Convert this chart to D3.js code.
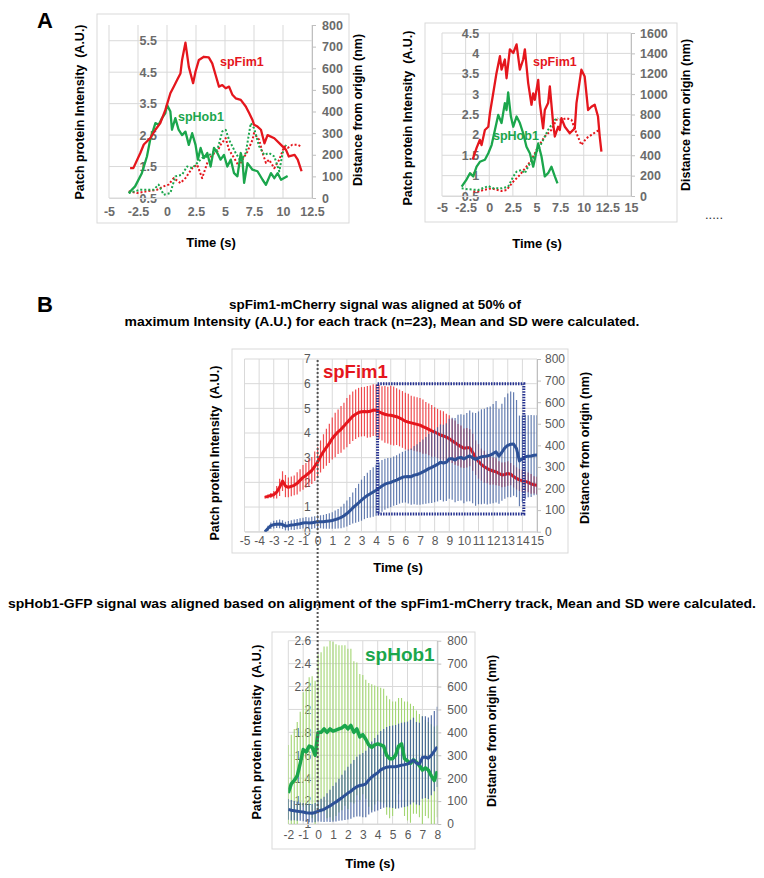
<!DOCTYPE html>
<html><head><meta charset="utf-8">
<script src="https://cdn.jsdelivr.net/npm/d3@7"></script>
<style>
body{margin:0;background:#fff;}
svg{font-family:"Liberation Sans", Arial, Helvetica, sans-serif;}
</style></head><body>
<svg id="fig" width="764" height="878"></svg>
<script>
// ---------------- DATA ----------------
// Panel A, left example track: [time (s), value]
const aL_fimInt = [[-3.18,1.45],[-2.9,1.45],[-2.3,1.93],[-2.0,2.2],[-1.45,2.4],[-1.0,2.67],[-0.58,2.88],[-0.14,3.3],[0.29,3.83],[0.58,4.04],[0.87,4.25],[1.16,4.46],[1.3,4.89],[1.59,5.44],[1.88,4.67],[2.25,4.15],[2.46,4.52],[2.75,4.89],[3.18,4.99],[3.6,4.97],[3.9,4.78],[4.19,4.41],[4.48,4.04],[4.77,4.09],[5.06,3.99],[5.35,4.04],[5.64,3.78],[5.92,3.67],[6.36,3.62],[6.79,3.41],[7.08,3.2],[7.37,2.98],[7.5,2.83],[7.8,2.77],[8.1,2.67],[8.4,2.24],[8.67,2.5],[9.25,2.4],[9.83,2.19],[10.26,2.03],[10.5,1.82],[11.0,1.87],[11.27,1.72],[11.6,1.35]];
const aL_hobInt = [[-3.3,0.66],[-2.75,0.87],[-2.17,1.29],[-1.73,1.82],[-1.45,2.35],[-1.0,2.88],[-0.72,2.83],[-0.43,3.04],[-0.14,3.2],[0,3.46],[0.29,3.25],[0.43,2.67],[0.72,3.04],[1.0,2.67],[1.3,2.5],[1.59,2.61],[1.88,2.19],[2.17,2.56],[2.46,2.19],[2.66,1.72],[2.9,2.09],[3.18,1.77],[3.47,1.93],[3.76,1.5],[4.05,2.09],[4.34,1.93],[4.62,1.72],[4.91,1.87],[5.2,1.5],[5.5,1.72],[5.78,1.29],[6.07,1.19],[6.36,1.93],[6.5,1.72],[6.65,0.98],[6.94,1.61],[7.37,1.4],[7.8,1.35],[8.24,1.08],[8.53,0.92],[8.96,1.29],[9.25,1.13],[9.54,1.29],[9.83,1.08],[10.4,1.2]];
const aL_fimDist = [[-3.3,31],[-2.6,23],[-1.73,31],[-0.87,38],[-0.29,54],[0.14,62],[0.58,92],[1.16,69],[1.59,92],[2.17,138],[2.6,154],[3.03,92],[3.47,162],[3.9,200],[4.34,215],[4.62,246],[5.06,277],[5.35,223],[5.78,185],[6.21,146],[6.5,177],[6.94,215],[7.37,269],[7.5,300],[7.95,269],[8.24,208],[8.53,162],[8.8,177],[9.25,138],[9.68,177],[10.1,238],[10.4,231],[10.8,246],[11.27,246],[11.56,238]];
const aL_hobDist = [[-3.3,23],[-2.3,38],[-1.16,38],[-0.72,62],[-0.29,15],[0.29,23],[0.72,100],[1.3,108],[1.73,146],[2.17,138],[2.6,162],[3.03,185],[3.47,192],[3.9,208],[4.34,223],[4.77,308],[5.06,315],[5.35,269],[5.64,238],[5.92,208],[6.36,169],[6.79,208],[7.22,346],[7.5,323],[7.95,238],[8.38,200],[8.8,208],[9.25,192],[9.68,123],[9.97,208],[10.26,246]];

// Panel A, right example track
const aR_fimInt = [[-1.76,1.39],[-1.34,1.68],[-0.99,1.88],[-0.81,1.75],[-0.46,2.12],[-0.1,2.2],[0.07,2.53],[0.42,3.02],[0.77,3.52],[1.13,3.93],[1.3,3.6],[1.65,3.85],[1.83,3.39],[2.18,4.1],[2.54,4.01],[2.89,4.22],[3.24,3.6],[3.59,3.85],[3.77,4.1],[4.12,3.27],[4.47,2.74],[4.65,3.02],[4.82,2.86],[5.18,3.35],[5.35,2.78],[5.7,2.16],[5.88,2.61],[6.23,2.78],[6.41,3.19],[6.76,2.28],[6.94,1.96],[7.29,2.2],[7.46,2.12],[7.64,2.41],[8.0,2.2],[8.52,2.04],[9.05,2.16],[9.23,2.78],[9.75,3.6],[10.1,3.43],[10.46,2.61],[10.81,2.69],[11.16,2.74],[11.51,2.45],[11.69,1.96],[11.87,1.59]];
const aR_hobInt = [[-2.92,0.73],[-2.39,0.91],[-2.04,1.06],[-1.69,0.98],[-1.34,1.22],[-0.99,1.34],[-0.46,1.39],[-0.1,1.55],[0.25,1.75],[0.6,2.12],[0.95,2.49],[1.3,2.29],[1.65,2.78],[1.83,2.61],[2.0,3.04],[2.29,2.45],[2.54,2.2],[2.89,2.45],[3.24,2.29],[3.59,2.04],[3.94,1.71],[4.3,1.55],[4.65,1.22],[5.18,1.79],[5.53,1.47],[5.88,0.98],[6.23,1.06],[6.58,1.22],[6.94,0.98],[7.22,0.81]];
const aR_fimDist = [[-1.69,43],[-1.16,43],[-0.63,59],[0.25,75],[1.3,49],[1.83,59],[2.54,141],[3.24,207],[3.94,289],[4.47,354],[5.18,485],[5.88,584],[6.58,649],[7.11,748],[7.64,748],[8.17,764],[8.7,748],[9.23,616],[9.75,502],[10.28,567],[10.81,600],[11.34,633],[11.69,649]];
const aR_hobDist = [[-2.92,75],[-2.22,66],[-1.16,59],[-0.1,98],[0.42,75],[1.3,75],[2.0,92],[2.54,190],[2.89,239],[3.42,256],[3.77,223],[4.12,289],[4.82,403],[5.53,518],[6.23,649],[6.94,748],[7.29,764]];

// Panel A tick labels
const aL_xTicks = [-5,-2.5,0,2.5,5,7.5,10,12.5];
const aL_yTicks = [0.5,1.5,2.5,3.5,4.5,5.5];
const aL_y2Ticks = [0,100,200,300,400,500,600,700,800];
const aR_xTicks = [-5,-2.5,0,2.5,5,7.5,10,12.5,15];
const aR_yTicks = [0.5,1,1.5,2,2.5,3,3.5,4,4.5];
const aR_y2Ticks = [0,200,400,600,800,1000,1200,1400,1600];

// Panel B, upper chart: spFim1 intensity (mean, SD) and distance (mean, SD)
const timeB = [-3.6,-3.4,-3.2,-3.0,-2.8,-2.6,-2.4,-2.2,-2.0,-1.8,-1.6,-1.4,-1.2,-1.0,-0.8,-0.6,-0.4,-0.2,0,0.2,0.4,0.6,0.8,1.0,1.2,1.4,1.6,1.8,2.0,2.2,2.4,2.6,2.8,3.0,3.2,3.4,3.6,3.8,4.0,4.2,4.4,4.6,4.8,5.0,5.2,5.4,5.6,5.8,6.0,6.2,6.4,6.6,6.8,7.0,7.2,7.4,7.6,7.8,8.0,8.2,8.4,8.6,8.8,9.0,9.2,9.4,9.6,9.8,10.0,10.2,10.4,10.6,10.8,11.0,11.2,11.4,11.6,11.8,12.0,12.2,12.4,12.6,12.8,13.0,13.2,13.4,13.6,13.8,14.0,14.2,14.4,14.6,14.8,15.0];
const fimMeanB = [1.40,1.43,1.47,1.50,1.60,1.80,2.05,1.85,1.80,1.84, 1.88,1.96,2.08,2.20,2.28,2.38,2.48,2.65,2.82,3.05, 3.25,3.42,3.58,3.78,3.92,4.05,4.15,4.28,4.42,4.55, 4.68,4.76,4.83,4.86,4.87,4.86,4.88,4.93,4.92,4.86, 4.80,4.76,4.73,4.72,4.69,4.66,4.61,4.55,4.48,4.44, 4.41,4.38,4.35,4.32,4.26,4.21,4.15,4.09,4.04,3.98, 3.92,3.88,3.83,3.77,3.68,3.61,3.52,3.45,3.38,3.40, 3.40,3.22,3.00,2.85,2.72,2.63,2.56,2.50,2.46,2.43, 2.36,2.30,2.32,2.36,2.33,2.24,2.16,2.10,2.06,2.04, 2.00,1.94,1.90,1.88];
const fimSdB = [0.05,0.08,0.10,0.15,0.25,0.35,0.40,0.45,0.40,0.40, 0.40,0.45,0.45,0.50,0.50,0.55,0.55,0.60,0.60,0.65, 0.70,0.75,0.80,0.85,0.90,0.90,0.95,0.95,1.00,1.00, 1.00,1.00,1.00,1.00,1.00,1.05,1.05,1.05,1.05,1.10, 1.10,1.15,1.15,1.20,1.20,1.15,1.15,1.15,1.15,1.15, 1.10,1.10,1.10,1.10,1.10,1.05,1.05,1.05,1.00,1.00, 1.00,1.00,0.95,0.95,0.90,0.90,0.85,0.85,0.80,0.80, 0.75,0.75,0.70,0.70,0.65,0.65,0.60,0.60,0.55,0.55, 0.50,0.50,0.50,0.50,0.45,0.45,0.45,0.45,0.45,0.40, 0.40,0.40,0.35,0.35];
const distMeanB = [0,15,28,33,35,36,33,26,28,31, 32,35,37,40,42,40,41,44,46,46, 46,48,50,52,56,60,66,74,84,96, 110,122,134,146,158,168,176,184,192,202, 212,220,225,228,234,239,246,252,255,256, 255,262,265,270,277,284,292,298,305,312, 322,318,322,338,338,332,342,344,337,345, 351,342,335,342,347,349,351,355,362,370, 350,368,388,400,405,406,385,328,338,347, 350,351,354,355];
const distSdB = [5,12,15,18,18,20,20,20,22,22, 24,24,25,25,26,26,28,28,30,30, 32,34,36,38,42,45,50,55,60,65, 72,80,88,95,100,105,110,115,118,120, 120,118,116,115,114,115,116,118,120,125, 130,135,140,145,150,155,160,165,168,172, 175,178,180,185,190,195,200,200,205,205, 210,210,215,215,220,220,225,225,230,235, 220,225,235,240,245,240,225,210,200,195, 190,190,185,185];
const b1_xTicks = [-5,-4,-3,-2,-1,0,1,2,3,4,5,6,7,8,9,10,11,12,13,14,15];
const b1_yTicks = [0,1,2,3,4,5,6,7];
const b1_y2Ticks = [0,100,200,300,400,500,600,700,800];
const boxT = [4.1, 14.1];   // highlighted window (time)
const boxV = [0.72, 6.0];   // highlighted window (intensity axis)

// Panel B, lower chart: spHob1 intensity (mean, SD) and distance (mean, SD)
const timeC = [-2.0,-1.8,-1.6,-1.4,-1.2,-1.0,-0.8,-0.6,-0.4,-0.2,0,0.2,0.4,0.6,0.8,1.0,1.2,1.4,1.6,1.8,2.0,2.2,2.4,2.6,2.8,3.0,3.2,3.4,3.6,3.8,4.0,4.2,4.4,4.6,4.8,5.0,5.2,5.4,5.6,5.8,6.0,6.2,6.4,6.6,6.8,7.0,7.2,7.4,7.6,7.8,8.0];
const hobMeanC = [1.27,1.35,1.38,1.42,1.53,1.65,1.63,1.68,1.67,1.60, 1.80,1.80,1.83,1.80,1.83,1.81,1.82,1.83,1.84,1.86, 1.83,1.86,1.80,1.83,1.76,1.78,1.74,1.69,1.67,1.69, 1.70,1.69,1.68,1.60,1.57,1.57,1.60,1.68,1.70,1.57, 1.55,1.53,1.56,1.54,1.51,1.47,1.49,1.47,1.42,1.38, 1.46];
const hobSdC = [0.42,0.43,0.45,0.47,0.45,0.50,0.55,0.60,0.62,0.65, 0.68,0.70,0.72,0.75,0.77,0.78,0.75,0.73,0.72,0.70, 0.70,0.67,0.62,0.58,0.55,0.52,0.52,0.54,0.55,0.52, 0.50,0.50,0.50,0.52,0.52,0.50,0.47,0.42,0.40,0.50, 0.52,0.52,0.47,0.45,0.45,0.47,0.42,0.42,0.45,0.47, 0.40];
const distMeanC = [64,60,58,56,54,52,49,48,47,50, 56,60,64,72,79,88,96,106,115,125, 135,143,154,163,168,170,175,192,205,215, 224,236,243,248,250,250,250,253,257,259, 262,270,279,265,262,290,292,287,300,318, 337];
const distSdC = [45,45,42,42,40,40,40,40,40,42, 45,50,55,62,70,78,85,92,100,108, 115,120,125,130,135,140,145,150,155,160, 165,170,172,175,178,180,182,185,185,185, 185,185,185,180,180,180,178,178,175,175, 175];
const b2_xTicks = [-2,-1,0,1,2,3,4,5,6,7,8];
const b2_yTicks = [1,1.2,1.4,1.6,1.8,2,2.2,2.4,2.6];
const b2_y2Ticks = [0,100,200,300,400,500,600,700,800];

// ---------------- DRAWING ----------------
const svg = d3.select('#fig');
const RED = '#e5161d', GREEN = '#1ba64c', BLUE = '#2d5197';
let clipN = 0;

function chart(o){
  const g = svg.append('g');
  g.append('rect').attr('x',o.frame[0]).attr('y',o.frame[1])
    .attr('width',o.frame[2]-o.frame[0]).attr('height',o.frame[3]-o.frame[1])
    .attr('fill','#fff').attr('stroke','#d9d9d9').attr('stroke-width',1);
  const x = d3.scaleLinear().domain(o.xDom).range(o.xRange);
  const yL = d3.scaleLinear().domain(o.yDom).range(o.yRange);
  const yR = d3.scaleLinear().domain(o.y2Dom).range(o.yRange);
  const grid = g.append('g').attr('stroke','#d9d9d9').attr('stroke-width',1);
  grid.selectAll('.vx').data(o.xTicks).join('line')
    .attr('x1',d=>x(d)).attr('x2',d=>x(d)).attr('y1',o.yRange[0]).attr('y2',o.yRange[1]);
  grid.selectAll('.hy').data(o.yTicks).join('line')
    .attr('x1',o.xRange[0]).attr('x2',o.xRange[1]).attr('y1',d=>yL(d)).attr('y2',d=>yL(d));
  const font = `${o.tickWeight} ${o.tickSize}px "Liberation Sans", Arial, sans-serif`;
  // right axis
  const gR = g.append('g').attr('transform',`translate(${o.xRange[1]},0)`)
    .call(d3.axisRight(yR).tickValues(o.y2Ticks).tickSize(4).tickSizeOuter(0).tickPadding(o.rPad).tickFormat(d=>String(d)));
  gR.select('.domain').attr('stroke','#bfbfbf');
  gR.selectAll('.tick line').attr('stroke','#bfbfbf');
  gR.selectAll('text').attr('fill',o.tickColor).style('font',font);
  // left axis (crosses at time 0)
  const gL = g.append('g').attr('transform',`translate(${x(0)},0)`)
    .call(d3.axisLeft(yL).tickValues(o.yTicks).tickSize(0).tickPadding(o.lPad).tickFormat(d=>String(d)));
  gL.select('.domain').remove();
  gL.selectAll('text').attr('fill',o.tickColor).style('font',font);
  // bottom axis
  const gB = g.append('g').attr('transform',`translate(0,${o.yRange[0]})`)
    .call(d3.axisBottom(x).tickValues(o.xTicks).tickSize(0).tickSizeOuter(0).tickPadding(o.bPad).tickFormat(d=>String(d)));
  gB.select('.domain').attr('stroke','#d9d9d9');
  gB.selectAll('text').attr('fill',o.tickColor).style('font',font);
  // clip
  const id = 'clip' + (clipN++);
  svg.append('clipPath').attr('id',id).append('rect')
    .attr('x',o.xRange[0]).attr('y',o.yRange[1])
    .attr('width',o.xRange[1]-o.xRange[0]).attr('height',o.yRange[0]-o.yRange[1]);
  const data = g.append('g').attr('clip-path',`url(#${id})`);
  return {g, data, x, yL, yR};
}

function text(t, x, y, opt){
  const el = svg.append('text').attr('x',x).attr('y',y).text(t)
    .attr('fill',opt.fill||'#000').attr('font-size',opt.size||12)
    .attr('font-weight',opt.weight||'bold').attr('text-anchor',opt.anchor||'start');
  if (opt.rotate) el.attr('transform',`rotate(-90,${x},${y})`);
  if (opt.len) el.attr('textLength',opt.len).attr('lengthAdjust','spacingAndGlyphs');
  return el;
}

function pairLine(c, pts, scale, color, dotted, w){
  c.data.append('path').datum(pts)
    .attr('d', d3.line().x(d=>c.x(d[0])).y(d=>scale(d[1])))
    .attr('fill','none').attr('stroke',color).attr('stroke-width',w)
    .attr('stroke-linejoin','round')
    .attr('stroke-dasharray', dotted ? '2,2' : null);
}

// ---- Panel A left ----
const A1 = chart({frame:[97,14,349,223], xDom:[-5,12.5], xRange:[109,312], yDom:[0.5,6], y2Dom:[0,800], yRange:[198,25],
  xTicks:aL_xTicks, yTicks:aL_yTicks, y2Ticks:aL_y2Ticks, tickSize:12.5, tickWeight:'bold', tickColor:'#6b6b6b',
  rPad:6, lPad:10, bPad:9});
pairLine(A1, aL_fimDist, A1.yR, RED, true, 2);
pairLine(A1, aL_hobDist, A1.yR, GREEN, true, 2);
pairLine(A1, aL_hobInt, A1.yL, GREEN, false, 2.3);
pairLine(A1, aL_fimInt, A1.yL, RED, false, 2.3);
text('spFim1', 220, 66, {fill:RED, size:12.5});
text('spHob1', 178, 121, {fill:GREEN, size:12.5});

// ---- Panel A right ----
const A2 = chart({frame:[425,23,677,222], xDom:[-5,15], xRange:[442,631], yDom:[0.5,4.5], y2Dom:[0,1600], yRange:[196,33],
  xTicks:aR_xTicks, yTicks:aR_yTicks, y2Ticks:aR_y2Ticks, tickSize:12.5, tickWeight:'bold', tickColor:'#6b6b6b',
  rPad:5, lPad:10, bPad:7});
pairLine(A2, aR_fimDist, A2.yR, RED, true, 2);
pairLine(A2, aR_hobDist, A2.yR, GREEN, true, 2);
pairLine(A2, aR_hobInt, A2.yL, GREEN, false, 2.3);
pairLine(A2, aR_fimInt, A2.yL, RED, false, 2.3);
text('spFim1', 533, 66, {fill:RED, size:12.5});
text('spHob1', 493, 140, {fill:GREEN, size:12.5});

// Panel A titles
text('Patch protein Intensity\u00a0\u00a0(A.U.)', 84, 112, {rotate:true, anchor:'middle', size:12.5});
text('Distance from origin (nm)', 362, 110, {rotate:true, anchor:'middle', size:12.5});
text('Time (s)', 211, 247, {anchor:'middle', size:13});
text('Patch protein Intensity\u00a0\u00a0(A.U.)', 412, 118, {rotate:true, anchor:'middle', size:12.5});
text('Distance from origin (nm)', 690, 115, {rotate:true, anchor:'middle', size:12.5});
text('Time (s)', 537, 248, {anchor:'middle', size:13});
text('.....', 705, 219, {size:13, weight:'normal', fill:'#333'});
text('A', 37, 28, {size:22});

// ---- Panel B upper ----
text('B', 37, 312, {size:22});
text('spFim1-mCherry signal was aligned at 50% of', 375, 309, {anchor:'middle', size:12.5, len:292});
text('maximum Intensity (A.U.) for each track (n=23), Mean and SD were calculated.', 382, 326, {anchor:'middle', size:12.5, len:515});

const B1 = chart({frame:[232,349,568,553], xDom:[-5,15], xRange:[244.5,537], yDom:[0,7], y2Dom:[0,800], yRange:[531.7,359],
  xTicks:b1_xTicks, yTicks:b1_yTicks, y2Ticks:b1_y2Ticks, tickSize:12, tickWeight:'normal', tickColor:'#595959',
  rPad:4, lPad:7, bPad:5});
function errBars(c, t, m, s, scale, color, w, op){
  c.data.append('g').selectAll('line').data(t).join('line')
    .attr('x1',(d)=>c.x(d)).attr('x2',(d)=>c.x(d))
    .attr('y1',(d,i)=>scale(m[i]-s[i])).attr('y2',(d,i)=>scale(m[i]+s[i]))
    .attr('stroke',color).attr('stroke-width',w).attr('opacity',op);
}
function meanLine(c, t, m, scale, color, w){
  c.data.append('path').datum(t)
    .attr('d', d3.line().x(d=>c.x(d)).y((d,i)=>scale(m[i])))
    .attr('fill','none').attr('stroke',color).attr('stroke-width',w).attr('stroke-linejoin','round');
}
errBars(B1, timeB, fimMeanB, fimSdB, B1.yL, '#ee2e33', 1.2, 0.85);
meanLine(B1, timeB, fimMeanB, B1.yL, RED, 3);
errBars(B1, timeB, distMeanB, distSdB, B1.yR, '#3a5a9c', 1.2, 0.78);
meanLine(B1, timeB, distMeanB, B1.yR, BLUE, 3);
B1.g.append('rect').attr('x',B1.x(boxT[0])).attr('y',B1.yL(boxV[1]))
  .attr('width',B1.x(boxT[1])-B1.x(boxT[0])).attr('height',B1.yL(boxV[0])-B1.yL(boxV[1]))
  .attr('fill','none').attr('stroke','#24308f').attr('stroke-width',3).attr('stroke-dasharray','1.5,1.2');
text('spFim1', 323, 378, {fill:RED, size:18.5});
text('Patch protein Intensity\u00a0\u00a0(A.U.)', 219, 453, {rotate:true, anchor:'middle', size:12.5});
text('Distance from origin (nm)', 589, 448, {rotate:true, anchor:'middle', size:12.5});
text('Time (s)', 398, 572, {anchor:'middle', size:13});

// ---- Panel B lower ----
text('spHob1-GFP signal was aligned based on alignment of the spFim1-mCherry track, Mean and SD were calculated.', 382, 608, {anchor:'middle', size:12.5, len:748});
const B2 = chart({frame:[272,632,475,849], xDom:[-2,8], xRange:[288.3,437.3], yDom:[1,2.6], y2Dom:[0,800], yRange:[824,640.7],
  xTicks:b2_xTicks, yTicks:b2_yTicks, y2Ticks:b2_y2Ticks, tickSize:12, tickWeight:'normal', tickColor:'#595959',
  rPad:6, lPad:7, bPad:6});
errBars(B2, timeC, hobMeanC, hobSdC, B2.yL, '#a3d672', 1.1, 1);
errBars(B2, timeC, distMeanC, distSdC, B2.yR, '#3a5a9c', 1.2, 0.85);
meanLine(B2, timeC, hobMeanC, B2.yL, GREEN, 3.5);
meanLine(B2, timeC, distMeanC, B2.yR, BLUE, 3);
text('spHob1', 365, 661, {fill:GREEN, size:19});
text('Patch protein Intensity\u00a0\u00a0(A.U.)', 261, 732, {rotate:true, anchor:'middle', size:12.5});
text('Distance from origin (nm)', 496, 731, {rotate:true, anchor:'middle', size:12.5});
text('Time (s)', 370, 868, {anchor:'middle', size:13});

// alignment line at time 0 through both panel B charts
svg.append('line').attr('x1',B1.x(0)).attr('x2',B1.x(0)).attr('y1',360).attr('y2',813)
  .attr('stroke','#555').attr('stroke-width',2).attr('stroke-dasharray','2,2');
</script>
</body></html>
